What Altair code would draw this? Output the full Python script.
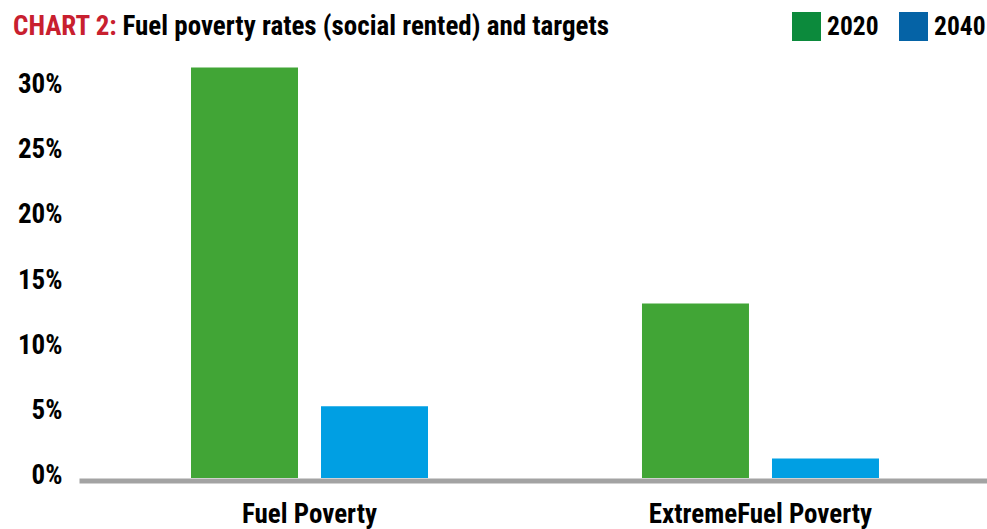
import altair as alt
import pandas as pd

# Chart values
categories = ["Fuel Poverty", "ExtremeFuel Poverty"]
years = ["2020", "2040"]
rates_2020 = [31.5, 13.4]
rates_2040 = [5.5, 1.5]
y_ticks = [0, 5, 10, 15, 20, 25, 30]

title_lead = "CHART 2:"
title_rest = "Fuel poverty rates (social rented) and targets"

bar_colors = ["#41a536", "#009fe3"]
key_colors = ["#0c8a3c", "#0563a6"]
title_red = "#c8202f"
axis_grey = "#a3a3a3"

FONT = "Roboto Condensed, Open Sans Condensed, sans-serif"

rows = []
for cat, a, b in zip(categories, rates_2020, rates_2040):
    rows.append({"category": cat, "year": years[0], "rate": a})
    rows.append({"category": cat, "year": years[1], "rate": b})
df = pd.DataFrame(rows)

x_enc = alt.X(
    "category:N",
    sort=categories,
    scale=alt.Scale(paddingInner=0, paddingOuter=0.0067, align=0.83),
    axis=alt.Axis(
        title=None, labelAngle=0, ticks=False, tickSize=0,
        domainColor=axis_grey, domainWidth=5, offset=2.5,
        labelBaseline="alphabetic", labelPadding=41.5,
        labelFontSize=27, labelLimit=400,
    ),
)
xoff_enc = alt.XOffset(
    "year:N", sort=years,
    scale=alt.Scale(paddingInner=0.177, paddingOuter=0.823),
)
y_scale = alt.Scale(domain=[0, 32], nice=False, zero=True)
y_axis = alt.Axis(
    title=None, values=y_ticks, labelExpr="datum.value + '%'",
    grid=False, domain=False, ticks=False, tickSize=0,
    labelPadding=17, labelOffset=-2.5, labelFontSize=27,
)

base = alt.Chart(df)

# Small squares hidden under the bars carry the legend colours
key_layer = base.transform_calculate(
    mid="datum.rate / 2", key="datum.year"
).mark_square(size=50, opacity=1).encode(
    x=x_enc,
    xOffset=xoff_enc,
    y=alt.Y("mid:Q", scale=y_scale, axis=y_axis),
    color=alt.Color(
        "key:N",
        scale=alt.Scale(domain=years, range=key_colors),
        legend=alt.Legend(
            title=None, orient="none", legendX=713, legendY=-49,
            direction="horizontal", symbolType="square", symbolSize=841,
            symbolStrokeWidth=0, symbolOpacity=1, labelOffset=6,
            columnPadding=20, padding=0, labelFontSize=25.5,
            labelFont=FONT, labelFontWeight="bold", labelColor="#000000",
        ),
    ),
)

bars = base.mark_bar().encode(
    x=x_enc,
    xOffset=xoff_enc,
    y=alt.Y("rate:Q", scale=y_scale, axis=y_axis),
    color=alt.Color(
        "year:N",
        scale=alt.Scale(domain=years, range=bar_colors),
        legend=None,
    ),
)

lead = alt.Chart(pd.DataFrame({"t": [title_lead]})).mark_text(
    align="left", baseline="alphabetic", font=FONT, fontSize=27,
    fontWeight="bold", color=title_red,
).encode(text="t:N", x=alt.value(-66), y=alt.value(-26.5))

rest = alt.Chart(pd.DataFrame({"t": [title_rest]})).mark_text(
    align="left", baseline="alphabetic", font=FONT, fontSize=27,
    fontWeight="bold", color="#000000",
).encode(text="t:N", x=alt.value(43.5), y=alt.value(-26.5))

chart = alt.layer(key_layer, bars, lead, rest).resolve_scale(
    color="independent"
).properties(
    width=908,
    height=417,
    padding={"left": 79, "top": 61, "right": 0, "bottom": 51},
    autosize=alt.AutoSizeParams(type="none"),
    background="#ffffff",
).configure_view(
    stroke=None
).configure_axis(
    labelFont=FONT, labelFontWeight="bold", labelColor="#000000",
)

chart.save("out.html", embed_options={"renderer": "svg", "actions": False})
